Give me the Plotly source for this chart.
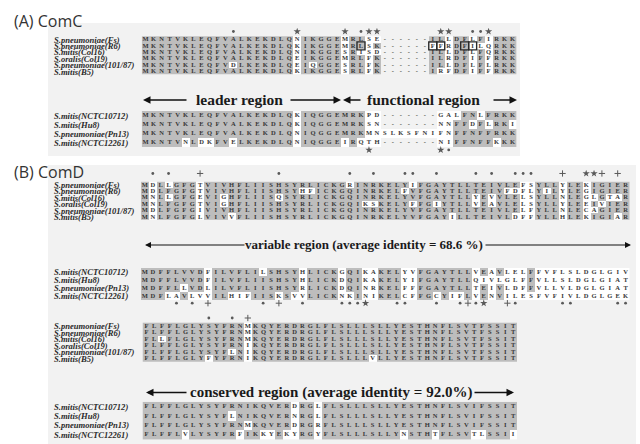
import numpy as np
import plotly.graph_objects as go
from collections import Counter

W, H = 640, 444

# ---------------- DATA ----------------
panel_titles = ["(A) ComC", "(B) ComD"]

names_main = ["S.pneumoniae(Fs)", "S.pneumoniae(R6)", "S.mitis(Col16)", "S.oralis(Col19)",
              "S.pneumoniae(101/87)", "S.mitis(B5)"]
names_other = ["S.mitis(NCTC10712)", "S.mitis(Hu8)", "S.pneumoniae(Pn13)", "S.mitis(NCTC12261)"]

# ComC alignment (47 columns)
comc_main = [
    "MKNTVKLEQFVALKEKDLQNIKGGEMRLSE------ILLDFLFIRKK",
    "MKNTVKLEQFVALKEKDLQKIKGGEMRLSK------FFRDFILQRKK",
    "MKNTVKLEQFVALKEKDLQNIKGGESRISD------ILLDFLFQRKK",
    "MKNTVKLEQFVALKEKDLQEIKGGEMRLFK------ILRDFIFFRKK",
    "MKNTVKLEQFVDLKEKDLQEIQGGESRLFK------ILLDFLFLRKK",
    "MKNTVKLEQFVALKEKDLQKIKGGESRLFK------IRFDFIFFRKK",
]
comc_other = [
    "MKNTVKLEQFVALKEKDLQKIQGGEMRKPD-------GALFNLFRKK",
    "MKNTVKLEQFVALKEKDLQKIQGGEMRKSN-------NNFFDFLRKI",
    "MKNTVKLEQFVALKEKDLQNIQGGEMRKMNSLKSFNIFNFFNFFRKK",
    "MKNTVNLDKFVELKEKDLQNIQGGEIRQTH-------NIFFNFFKKK",
]
comc_main_marks = {11: ".", 19: "*", 25: "*", 27: ".", 28: "*", 29: "*",
                   37: "*", 38: "*", 41: ".", 42: ".", 43: "*"}
comc_other_marks = {28: "*", 37: "*", 38: "."}
comc_boxed = [(1, 27), (1, 36), (1, 37), (1, 40), (1, 41)]
comc_regions = ["leader region", "functional region"]

# ComD variable region (62 columns)
comd_var_main = [
    "MDLLGFGTVIVHFLIISHSYRLICKGRINR" + "KELYIFGAYTLLTEIVLEFSYLLYLEKIGIER",
    "MDLFGFGTVIVHFLIISHSYHFICKGQINR" + "KELFVFGAYTLLTEIVFDFLYILYLEGIGIER",
    "MNLLGFGEVIGHFLIISQSYRLICKGQINR" + "KELYVFGAYTLLYEVVLELSYLLNLEGLGTAR",
    "MNLFGFGTVIGHFLIISHSYRLICKGQIKS" + "KELYFFGIYTLLVEAVLELSYLLYLEEIVIER",
    "MDLFGFGIVIVHFLIISHSYRLICKGQINR" + "KELYVFGAYTLLTEIVLELFYLLNLECAGIER",
    "MNLFGFGLVIVVFLIISHSYRLICKGQINR" + "KELYVFGAYILLTEIVLDFFYLLHLEKIGIAR",
]
comd_var_other = [
    "MDFFLVVDFILVFLILSHSYHLICKGQIKA" + "KELYVFGAYTLLVEAVLELFFVFLSLDGLGIV",
    "MDFFLVVDFILVFLIISHSYHLICKDQIKA" + "KELYIFGAYTLLQIVLGLFFVLLSLDGLGIAT",
    "MDFFLLVDLILVFLIISHSYRLICKDQINR" + "KELFFFGAYTLLTEIVLDFFVLLVLDGLGIAT",
    "MDFLAVLVVILHIFIISKSVVLICKNKINI" + "KELCFFGCYIFLVENVILESFVFIVLDGLGEK",
]
comd_var_main_marks = {1: ".", 3: ".", 7: "+", 17: ".", 26: ".", 29: ".", 33: ".", 34: ".",
                       37: ".", 42: ".", 44: ".", 47: ".", 48: ".", 49: ".", 53: "+",
                       56: "*", 57: "*", 58: "+", 60: "+"}
comd_var_other_marks = {4: ".", 6: ".", 8: "+", 15: ".", 17: "+", 20: ".", 25: ".", 26: ".",
                        27: ".", 28: "*", 32: ".", 33: ".", 37: ".", 40: ".", 41: "+", 42: ".",
                        43: "*", 46: "+", 47: ".", 53: ".", 54: ".", 60: ".", 61: "."}

# ComD conserved region (48 columns)
comd_con_main = [
    "FLFFLGLYSYFRNMKQYERDRGLFLSLLLSLLYESTHNFLSVTFSSIT",
    "FLFFLGLYSYFRNMKQYERDRGLFLSLLLSLLYESTHNFLSVTFSSIT",
    "FLLFLGLYSYFRNMKQYERDRGLFLSLLLSLLYESTHNFLSVTFSSIT",
    "FLFFLGLYSYFRNIKQYERDRGLFLSLLLSLLYESTHNFLSVTFSSIT",
    "FLFFLGLYSYFLNIKQYERDRGLFLSLLLSLLYESTHNFLSVTFSSIT",
    "FLFFLGLYFYFRNIKQYERDRGLFLSLLLVLLYESTHNFLSVTFSSIT",
]
comd_con_other = [
    "FLFFLGLYSYFRNIKQVERDRGLFLSLLLSLLYESTHNFLSVIFSSIT",
    "FLFFLGLYSYFLNIKQVERNRGLFLSLLLSLLYESTHNFLSVIFSSIT",
    "FLFFLGLYSYFRNMKQVERDRGRFLSLLLSLLYESTHNFLSVIFSSIT",
    "FLFFLVLYSYFRFIKKYEKYRGYFLSLLLSLLYNSTHTFLSVTLSSII",
]
comd_con_main_marks = {8: ".", 11: ".", 13: "+"}
comd_con_other_marks = {}
comd_regions = ["variable region (average identity = 68.6 %)",
                "conserved region (average identity = 92.0%)"]

# ---------------- STYLE / LAYOUT ----------------
GRAY = "#bdbdbd"
PANEL = "#f2f2f2"
INK = "#363636"
LABEL_X = 52

blocks = [
    dict(seqs=comc_main, names=names_main, marks=comc_main_marks, boxed=comc_boxed,
         xl=141.7, xr=516.5, y0=39.5, dy=6.4, mark=-1.25),
    dict(seqs=comc_other, names=names_other, marks=comc_other_marks, boxed=[],
         xl=141.7, xr=516.5, y0=115.5, dy=9.0, mark=3.83),
    dict(seqs=comd_var_main, names=names_main, marks=comd_var_main_marks, boxed=[],
         xl=141.0, xr=629.5, y0=185.0, dy=6.4, mark=-1.8),
    dict(seqs=comd_var_other, names=names_other, marks=comd_var_other_marks, boxed=[],
         xl=141.0, xr=629.5, y0=272.0, dy=8.0, mark=3.9),
    dict(seqs=comd_con_main, names=names_main, marks=comd_con_main_marks, boxed=[],
         xl=142.5, xr=517.0, y0=326.0, dy=6.55, mark=-1.22),
    dict(seqs=comd_con_other, names=names_other, marks=comd_con_other_marks, boxed=[],
         xl=142.5, xr=517.0, y0=406.5, dy=9.4, mark=None),
]


def shading(seqs):
    n = len(seqs)
    L = max(len(s) for s in seqs)
    z = np.full((n, L), np.nan)
    for j in range(L):
        col = [s[j] if j < len(s) else "-" for s in seqs]
        res = [c for c in col if c != "-"]
        top, cnt = (Counter(res).most_common(1)[0] if res else (None, 0))
        for i, c in enumerate(col):
            if c == "-":
                continue
            z[i, j] = 1.0 if (c == top and cnt > n / 2) else 0.0
    return z


fig = go.Figure()
annotations = []
layout_axes = {}

for k, b in enumerate(blocks, start=1):
    xa = "x" if k == 1 else f"x{k}"
    ya = "y" if k == 1 else f"y{k}"
    seqs = b["seqs"]
    n = len(seqs)
    L = max(len(s) for s in seqs)
    z = shading(seqs)

    fig.add_trace(go.Heatmap(z=z, x=list(range(L)), y=list(range(n)),
                             colorscale=[[0, "#ffffff"], [1, GRAY]], zmin=0, zmax=1,
                             showscale=False, hoverinfo="skip", xaxis=xa, yaxis=ya))
    xs, ys, ts = [], [], []
    for i, s in enumerate(seqs):
        for j, c in enumerate(s):
            xs.append(j); ys.append(i); ts.append(c)
    fig.add_trace(go.Scatter(x=xs, y=ys, text=ts, mode="text", hoverinfo="skip",
                             textfont=dict(family="Liberation Serif", size=6.5, color=INK,
                                           weight="bold"),
                             xaxis=xa, yaxis=ya))
    if b["boxed"]:
        fig.add_trace(go.Scatter(x=[c for r, c in b["boxed"]], y=[r for r, c in b["boxed"]],
                                 mode="markers", hoverinfo="skip",
                                 marker=dict(symbol="square-open", size=8,
                                             line=dict(width=1.4, color="#2a2a2a"),
                                             color="#2a2a2a"),
                                 xaxis=xa, yaxis=ya))
    if b["mark"] is not None and b["marks"]:
        for sym, msym, size in [("*", "star", 5.5), (".", "circle", 2.8), ("+", "cross-thin", 4.5)]:
            cols = [c for c, v in b["marks"].items() if v == sym]
            if not cols:
                continue
            fig.add_trace(go.Scatter(x=cols, y=[b["mark"]] * len(cols), mode="markers",
                                     hoverinfo="skip",
                                     marker=dict(symbol=msym, size=size, color="#5a5a5a",
                                                 line=dict(width=1 if sym == "+" else 0,
                                                           color="#5a5a5a")),
                                     xaxis=xa, yaxis=ya))

    top_idx = -0.5 if b["mark"] is None else min(-0.5, b["mark"] - 0.7)
    bot_idx = n - 0.5 if b["mark"] is None else max(n - 0.5, b["mark"] + 0.7)
    top_px = b["y0"] + top_idx * b["dy"]
    bot_px = b["y0"] + bot_idx * b["dy"]
    key = "" if k == 1 else str(k)
    layout_axes["xaxis" + key] = dict(domain=[b["xl"] / W, b["xr"] / W], range=[-0.5, L - 0.5],
                                      visible=False, fixedrange=True,
                                      anchor=ya)
    layout_axes["yaxis" + key] = dict(domain=[1 - bot_px / H, 1 - top_px / H],
                                      range=[bot_idx, top_idx], visible=False,
                                      fixedrange=True, anchor=xa)
    for i, nm in enumerate(b["names"]):
        annotations.append(dict(x=LABEL_X / W, xref="paper", y=i, yref=ya,
                                text=f"<b><i>{nm}</i></b>",
                                showarrow=False, xanchor="left", yanchor="middle",
                                font=dict(family="Liberation Serif", size=8.6, color="#2a2a2a")))


def ptxt(text, x, y, size, family="Liberation Serif", bold=True, anchor="center", color="#1a1a1a"):
    return dict(x=x / W, y=1 - y / H, xref="paper", yref="paper",
                text=f"<b>{text}</b>" if bold else text, showarrow=False,
                xanchor=anchor, yanchor="middle",
                font=dict(family=family, size=size, color=color))


def parrow(head_x, tail_x, y, width=1.5, size=1.0):
    return dict(x=head_x / W, y=1 - y / H, xref="paper", yref="paper", text="",
                showarrow=True, ax=tail_x - head_x, ay=0, arrowhead=2, arrowsize=size,
                arrowwidth=width, arrowcolor="#111", standoff=0, startstandoff=0)


# titles
annotations.append(ptxt(panel_titles[0], 12, 21, 16, family="Open Sans", bold=False,
                        anchor="left", color="#333"))
annotations.append(ptxt(panel_titles[1], 12, 172, 16, family="Open Sans", bold=False,
                        anchor="left", color="#333"))

# ComC region arrows
annotations += [
    parrow(143, 188, 100), ptxt(comc_regions[0], 239, 99.5, 15.5), parrow(341, 289, 100),
    parrow(343, 362, 100), ptxt(comc_regions[1], 423.5, 99.5, 15.5), parrow(517, 492, 100),
]
# ComD region arrows
annotations += [
    parrow(145, 246, 245, width=1.2), ptxt(comd_regions[0], 364, 244.5, 13),
    parrow(631, 484, 245, width=1.2),
    parrow(146, 188, 392.5), ptxt(comd_regions[1], 331, 392, 15), parrow(514, 473, 392.5),
]

shapes = [
    dict(type="rect", xref="paper", yref="paper", x0=48 / W, x1=520 / W, y0=1 - 156 / H,
         y1=1 - 23 / H, fillcolor=PANEL, line=dict(width=0), layer="below"),
    dict(type="rect", xref="paper", yref="paper", x0=48 / W, x1=636 / W, y0=0,
         y1=1 - 165 / H, fillcolor=PANEL, line=dict(width=0), layer="below"),
]

fig.update_layout(width=W, height=H, margin=dict(l=0, r=0, t=0, b=0),
                  paper_bgcolor="white", plot_bgcolor="rgba(0,0,0,0)", showlegend=False,
                  annotations=annotations, shapes=shapes, **layout_axes)

fig.write_html("out.html", config={"displayModeBar": False},
               post_script="document.body.style.margin='0';")
